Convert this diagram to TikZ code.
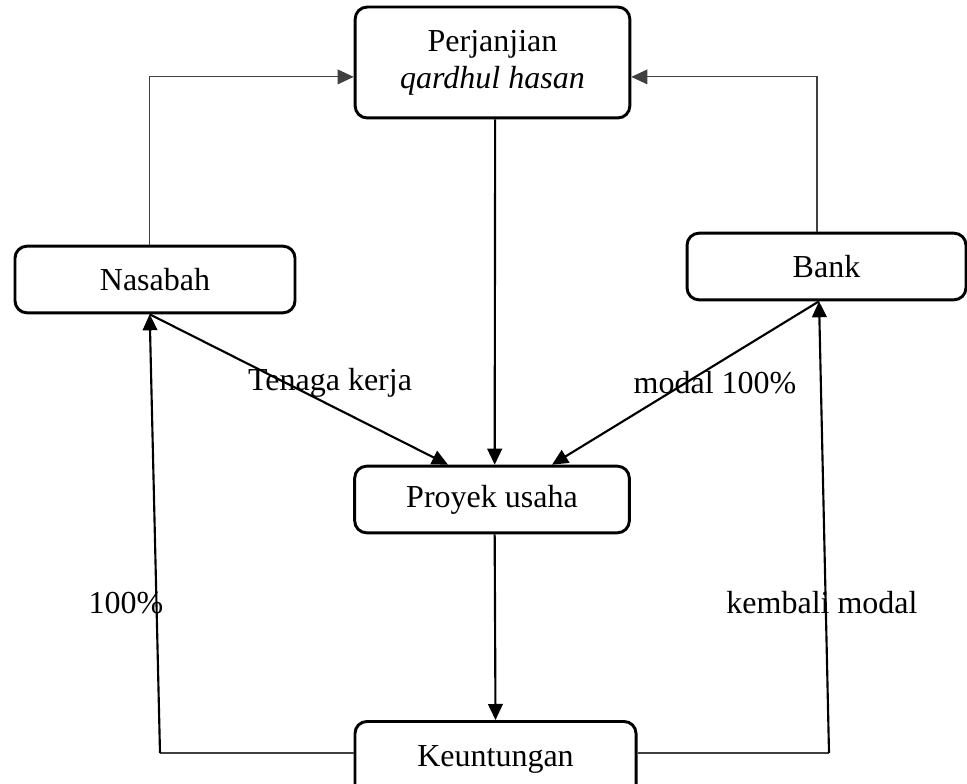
\documentclass[tikz,border=0pt]{standalone}
\usepackage{fontspec}
\setmainfont{Liberation Serif}
\usetikzlibrary{positioning,arrows.meta,calc}

\begin{document}
\begin{tikzpicture}[
        x=0.375pt, y=-0.375pt,
        font=\fontsize{12}{14}\selectfont,
        box/.style={
            draw, rounded corners=4.5pt, align=center, line width=1.1pt,
            inner sep=2pt, minimum width=103pt, minimum height=25pt
        },
        lab/.style={draw=none, fill=none, inner sep=1pt},
        ar/.style={-{Triangle[length=6pt,width=5.5pt]}, line width=0.8pt},
        ln/.style={line width=0.45pt, black!75}
    ]
    \useasboundingbox (0,0) rectangle (967,784);

    %% ---- boxes ----
    \node[box, minimum height=41.6pt] (akad) at (492.5,62.5) {Perjanjian\\ \textit{qardhul hasan}};
    \node[box, minimum width=105pt] (nasabah) at (155,279.5) {Nasabah};
    \node[box, minimum width=104.6pt] (bank) at (826.5,266.5) {Bank};
    \node[box] (proyek) at (492,499.5) {Proyek usaha};
    \node[box, minimum width=105.4pt, minimum height=34pt, text depth=8pt, anchor=north]
        (untung) at (495.5,720) {Keuntungan};

    %% ---- agreement ----
    \draw[ln, -{Triangle[length=6pt,width=5.5pt]}] ([xshift=-2.2pt]nasabah.north) |- ([yshift=-5.4pt]akad.west);
    \draw[ln, -{Triangle[length=6pt,width=5.5pt]}] ([xshift=-3.6pt]bank.north) |- ([yshift=-5.4pt]akad.east);
    \draw[ar] ([xshift=1pt]akad.south) -- ([xshift=1pt]proyek.north);

    %% ---- input to project ----
    \draw[ar] ([xshift=-2pt]nasabah.south) -- ([xshift=-16.5pt]proyek.north);
    \draw[ar] ([xshift=-2.8pt]bank.south) -- ([xshift=22.5pt]proyek.north);
    \node[lab] (tenaga) at (330,383) {Tenaga kerja};
    \node[lab] (modal) at (715,383) {modal 100\%};

    %% ---- profit sharing ----
    \draw[ar] ([xshift=1pt]proyek.south) -- (untung.north);
    \coordinate (kiri) at (160,753);
    \coordinate (kanan) at (829,753);
    \draw[ln] (untung.west |- kiri) -- (kiri);
    \draw[ln] (untung.east |- kanan) -- (kanan);
    \draw[ar] (kiri) -- ([xshift=-2pt]nasabah.south);
    \draw[ar] (kanan) -- ([xshift=-2.8pt]bank.south);
    \node[lab] (persen) at (126,603) {100\%};
    \node[lab] (kembali) at (822,603) {kembali modal};
\end{tikzpicture}
\end{document}
